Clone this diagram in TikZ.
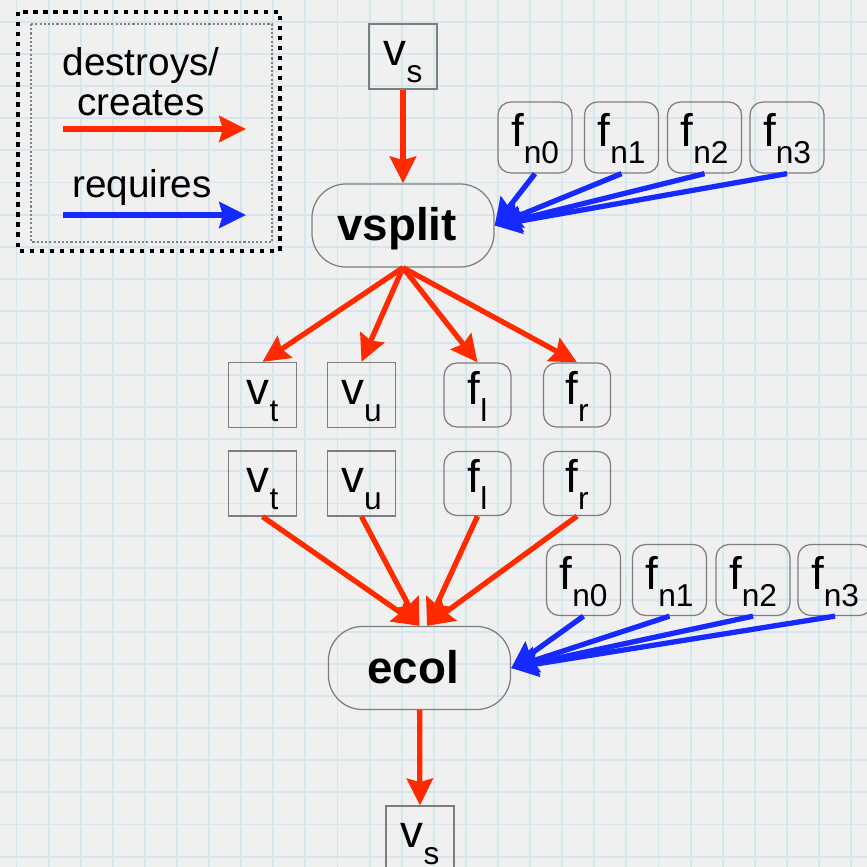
\documentclass[tikz,border=0pt]{standalone}
\usepackage{fontspec}
\setmainfont{Liberation Sans}
\usetikzlibrary{arrows.meta}
\definecolor{paper}{RGB}{240,240,240}
\definecolor{gridblue}{RGB}{214,230,238}
\definecolor{mkred}{RGB}{255,42,0}
\definecolor{needblue}{RGB}{22,42,255}
\definecolor{boxgray}{RGB}{125,125,125}
\newcommand{\elem}[2]{{\fontsize{13}{13}\selectfont #1}\raisebox{-4.8pt}{\fontsize{9}{9}\selectfont #2}}
\tikzset{
    vbox/.style={draw=boxgray, line width=0.35pt, inner sep=0pt,
        minimum width=0.68cm, minimum height=0.65cm,
        text height=8pt, text depth=2.8pt},
    fbox/.style={vbox, rounded corners=0.13cm,
        minimum width=0.67cm, minimum height=0.64cm},
    fnbox/.style={fbox, minimum width=0.74cm, minimum height=0.71cm},
    opbox/.style={draw=boxgray, line width=0.35pt, rounded corners=0.34cm,
        minimum width=1.82cm, minimum height=0.83cm, inner sep=0pt,
        font=\fontsize{13}{13}\selectfont\bfseries,
        text height=10pt, text depth=1.2pt},
    legtext/.style={font=\fontsize{11}{11.4}\selectfont, inner sep=0pt},
    creates/.style={mkred, line width=1.5pt,
        -{Stealth[length=7.6pt, width=7.4pt, inset=1pt]}},
    requires/.style={creates, needblue}
}

\begin{document}
\begin{tikzpicture}[x=0.01cm, y=-0.01cm]
    \useasboundingbox (0,0) rectangle (867,867);
    \fill[paper] (0,0) rectangle (867,867);
    % graph paper
    \foreach \i in {0,...,26} {
        \draw[gridblue, line width=0.55pt] (16.5+32.1*\i,0) -- ++(0,867);
        \draw[gridblue, line width=0.55pt] (0,22+32.1*\i) -- ++(867,0);
    }

    % legend
    \draw[line width=1.3pt, dash pattern=on 1.25pt off 1.6pt] (18,12) rectangle (280,251);
    \draw[gray, line width=0.3pt, dash pattern=on 0.6pt off 0.6pt] (31,24) rectangle (272,242);
    \node[legtext, align=center, anchor=north] (legcreates) at (141,47) {destroys/\\creates};
    \coordinate (lr1) at (63,129);
    \coordinate (lr2) at (246,129);
    \draw[creates] (lr1) -- (lr2);
    \node[legtext, anchor=base] (legrequires) at (142,198) {requires};
    \coordinate (lb1) at (63,215);
    \coordinate (lb2) at (246,215);
    \draw[requires] (lb1) -- (lb2);

    \node[vbox] (vsTop) at (403,56.5) {\elem{v}{s}};
    \node[opbox] (vsplit) at (403,225.5) {\kern-3.4pt vsplit};
    \foreach \i/\x in {0/535,1/621.5,2/704.5,3/787}
        \node[fnbox] (fnA\i) at (\x,137.5) {\elem{f}{n\i}};

    \node[vbox] (vt1) at (262.5,395) {\elem{v}{t}};
    \node[vbox] (vu1) at (361.5,395) {\elem{v}{u}};
    \node[fbox] (fl1) at (477.5,395) {\elem{f}{l}};
    \node[fbox] (fr1) at (577,395) {\elem{f}{r}};

    \node[vbox] (vt2) at (262.5,483.5) {\elem{v}{t}};
    \node[vbox] (vu2) at (361.5,483.5) {\elem{v}{u}};
    \node[fbox] (fl2) at (477.5,483.5) {\elem{f}{l}};
    \node[fbox] (fr2) at (577,483.5) {\elem{f}{r}};

    \node[opbox] (ecol) at (419.5,668) {\kern-3.6pt ecol};
    \foreach \i/\x in {0/583.5,1/669.5,2/753,3/835}
        \node[fnbox] (fnB\i) at (\x,580) {\elem{f}{n\i}};
    \node[vbox] (vsBot) at (420,838.5) {\elem{v}{s}};

    % connectors
    \draw[creates] (vsTop) -- (vsplit);
    \foreach \i in {0,...,3}
        \draw[requires] (fnA\i.south) -- (vsplit.east);
    \foreach \n in {vt1,vu1,fl1,fr1}
        \draw[creates] (vsplit.south) -- (\n.north);
    \draw[creates] (vt2.south) -- (ecol.north);
    \draw[creates] (vu2.south) -- (ecol.north);
    \draw[creates] (fl2.south) -- ([xshift=0.075cm]ecol.north);
    \draw[creates] (fr2.south) -- ([xshift=0.075cm]ecol.north);
    \foreach \i in {0,...,3}
        \draw[requires] (fnB\i.south) -- (ecol.east);
    \draw[creates] (ecol) -- (vsBot);
\end{tikzpicture}
\end{document}
